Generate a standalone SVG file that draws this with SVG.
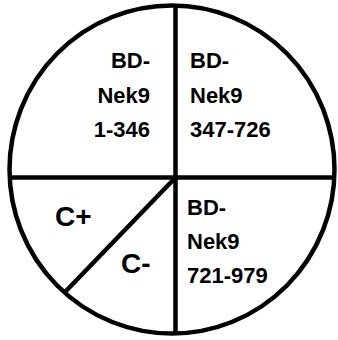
<svg xmlns="http://www.w3.org/2000/svg" width="338" height="340" viewBox="0 0 338 340">
<style>
.ln{stroke:#000;stroke-width:4.5;fill:none}
.t{font-family:"Liberation Sans",Arial,sans-serif;font-weight:bold;font-size:22px;fill:#000}
.c{font-family:"Liberation Sans",Arial,sans-serif;font-weight:bold;font-size:28px;fill:#000}
</style>
<rect width="338" height="340" fill="#fff"/>
<g id="connectors">
<ellipse class="ln" cx="172" cy="169.5" rx="162.5" ry="164"/>
<line class="ln" x1="175.5" y1="5" x2="175.5" y2="335"/>
<line class="ln" x1="9" y1="177.5" x2="335" y2="177.5"/>
<line class="ln" x1="176" y1="177" x2="66" y2="291"/>
</g>
<g id="q1">
<text class="t" text-anchor="end" x="150" y="68">BD-</text>
<text class="t" text-anchor="end" x="150" y="103">Nek9</text>
<text class="t" text-anchor="end" x="150" y="137">1-346</text>
</g>
<g id="q2">
<text class="t" x="190" y="68">BD-</text>
<text class="t" x="190" y="103">Nek9</text>
<text class="t" x="190" y="137">347-726</text>
</g>
<g id="q3">
<text class="t" x="187" y="215">BD-</text>
<text class="t" x="187" y="249">Nek9</text>
<text class="t" x="187" y="283">721-979</text>
</g>
<g id="cplus"><text class="c" x="55" y="226">C+</text></g>
<g id="cminus"><text class="c" x="121" y="273">C-</text></g>
</svg>
